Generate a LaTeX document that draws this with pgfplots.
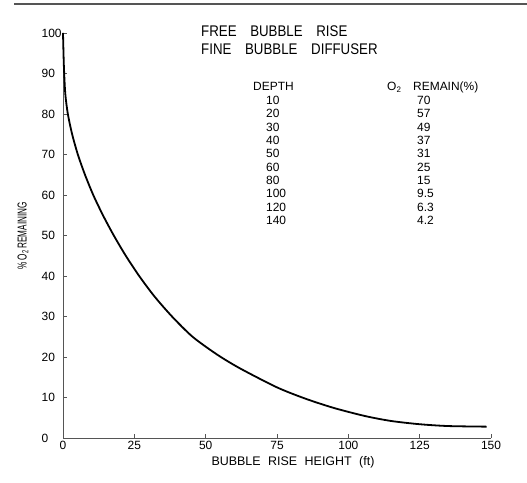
\documentclass[border=0pt]{standalone}
\usepackage{fontspec}
\setmainfont{Liberation Sans}
\newfontfamily\titlefont[FakeStretch=0.86]{Liberation Sans}
\newfontfamily\narrowfont[FakeStretch=0.63]{Liberation Sans}
\usepackage{pgfplots}
\pgfplotsset{compat=1.18}

\definecolor{axisgray}{HTML}{555555}

\begin{document}
\begin{tikzpicture}[x=1bp,y=1bp]
\useasboundingbox (0,0) rectangle (527,483);
% rule across the top of the sheet
\draw[axisgray, line width=1.4bp] (14,479) -- (527,479);

\begin{axis}[
  at={(63bp,45bp)}, anchor=south west,
  scale only axis, width=428bp, height=405bp,
  xmin=0, xmax=150, ymin=0, ymax=100,
  axis x line=bottom, axis y line=left,
  axis line style={-, axisgray, line width=0.9bp},
  xtick={0,25,...,150}, ytick={0,10,...,100},
  tick align=inside, major tick length=4bp,
  tick style={axisgray, line width=0.8bp},
  tick label style={font=\fontsize{12}{12}\selectfont},
  /pgf/number format/assume math mode=true,
  yticklabel style={anchor=west, inner sep=0pt, xshift=-21.5bp},
  clip=false,
]
% oxygen remaining in the rising bubble
\addplot[black, line width=1.8bp, smooth, tension=0.45] coordinates {
  (0,100) (0.3,92) (0.8,85) (1.7,80) (3.2,75) (5.2,70) (7.7,65)
  (10.6,60) (14,55) (17.8,50) (22,45) (26.7,40) (32,35) (38.2,30)
  (45.4,25) (54,20.6) (62,17.2) (75,12.5) (85,9.7) (95,7.4) (106,5.4)
  (115,4.2) (125,3.4) (135,2.95) (148.5,2.8)
};
\end{axis}

% titles
\node[anchor=base west, inner sep=0pt, font=\titlefont\fontsize{15.5}{15.5}\selectfont]
  at (201,446) {FREE\hspace{10bp} BUBBLE\hspace{10bp} RISE};
\node[anchor=base west, inner sep=0pt, font=\titlefont\fontsize{15.5}{15.5}\selectfont]
  at (201,428.3) {FINE\hspace{10bp} BUBBLE\hspace{10bp} DIFFUSER};

% depth / oxygen table
\begin{scope}[every node/.style={anchor=base west, inner sep=0pt,
    font=\fontsize{12}{12}\selectfont}]
  \node at (253,392.3) {DEPTH};
  \node at (387,392.3) {O\raisebox{-0.25ex}{\fontsize{8}{8}\selectfont 2}};
  \node at (413,392.3) {REMAIN(\%)};
  \foreach \d/\r [count=\i from 0] in
      {10/70, 20/57, 30/49, 40/37, 50/31, 60/25, 80/15, 100/9.5, 120/6.3, 140/4.2} {
    \node at (266,378.5-13.33*\i) {\d};
    \node at (417,378.5-13.33*\i) {\r};
  }
\end{scope}

% axis titles
\node[anchor=base, inner sep=0pt, font=\fontsize{12.5}{12.5}\selectfont]
  at (293,17) {BUBBLE\hspace{4bp} RISE\hspace{4bp} HEIGHT\hspace{4bp} (ft)};
\node[rotate=90, anchor=center, inner sep=0pt, font=\narrowfont\fontsize{13}{13}\selectfont]
  at (23,247) {\% O\raisebox{-0.25ex}{\fontsize{9}{9}\selectfont 2} REMAINING};
\end{tikzpicture}
\end{document}
